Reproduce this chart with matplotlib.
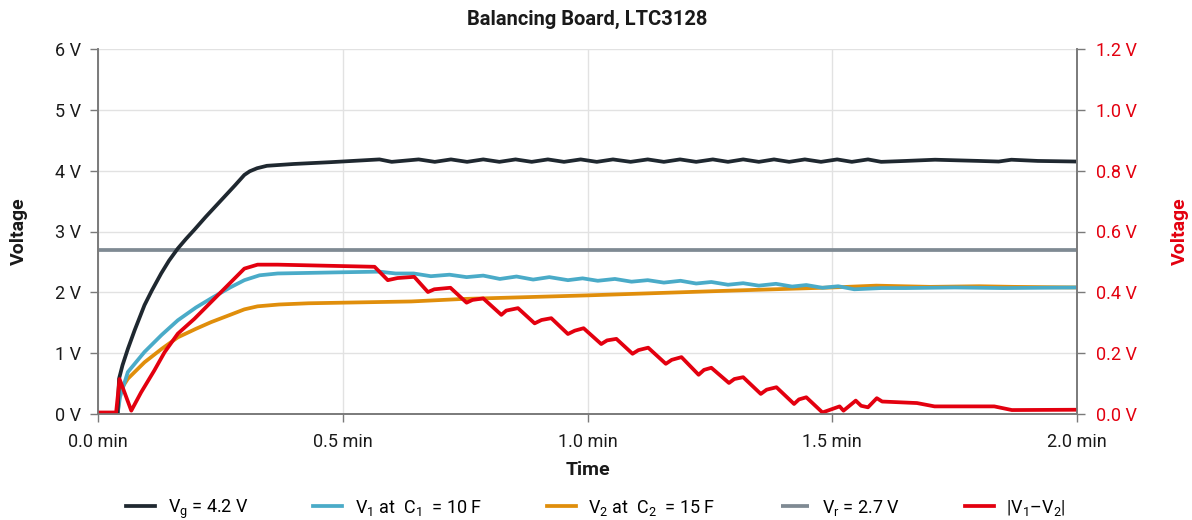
import matplotlib
matplotlib.use("Agg")
import matplotlib.pyplot as plt
from matplotlib.ticker import FuncFormatter

plt.rcParams['font.family'] = ['Roboto', 'DejaVu Sans']
plt.rcParams['mathtext.fontset'] = 'custom'
plt.rcParams['mathtext.rm'] = 'Roboto'

# --- data (time in minutes) ---
t_g = [0.0, 0.04, 0.043, 0.05, 0.061, 0.075, 0.095, 0.11, 0.129, 0.145, 0.163, 0.18, 0.197, 0.22,
       0.25, 0.28, 0.299, 0.31, 0.325, 0.345, 0.40, 0.476,
       0.575, 0.60, 0.655, 0.688, 0.721, 0.754, 0.787, 0.82, 0.853, 0.886, 0.919, 0.952, 0.986, 1.019,
       1.052, 1.088, 1.123, 1.156, 1.189, 1.222, 1.256, 1.287, 1.318, 1.35, 1.381, 1.412, 1.444, 1.477,
       1.51, 1.54, 1.573, 1.60, 1.65, 1.71, 1.80, 1.84, 1.866, 1.92, 2.0]
v_g = [0.0, 0.0, 0.58, 0.8, 1.07, 1.38, 1.79, 2.03, 2.31, 2.52, 2.72, 2.88, 3.03, 3.24,
       3.5, 3.76, 3.93, 3.99, 4.04, 4.08, 4.11, 4.14,
       4.185, 4.145, 4.185, 4.145, 4.185, 4.145, 4.185, 4.145, 4.185, 4.145, 4.185, 4.145, 4.185, 4.145,
       4.185, 4.145, 4.185, 4.145, 4.185, 4.145, 4.185, 4.145, 4.185, 4.145, 4.185, 4.145, 4.185, 4.145,
       4.185, 4.145, 4.185, 4.145, 4.16, 4.18, 4.16, 4.15, 4.18, 4.16, 4.15]

t_1 = [0.0, 0.04, 0.045, 0.061, 0.095, 0.13, 0.163, 0.2, 0.231, 0.27, 0.299, 0.33, 0.367, 0.5,
       0.575, 0.608, 0.645, 0.68, 0.718, 0.753, 0.787, 0.821, 0.855, 0.889, 0.922, 0.96,
       0.99, 1.021, 1.056, 1.09, 1.123, 1.156, 1.19, 1.222, 1.253, 1.287, 1.318, 1.35,
       1.385, 1.418, 1.447, 1.48, 1.512, 1.545, 1.6, 1.65, 1.75, 1.85, 2.0]
v_1 = [0.0, 0.0, 0.28, 0.69, 1.02, 1.3, 1.54, 1.75, 1.9, 2.08, 2.2, 2.28, 2.31, 2.33,
       2.34, 2.31, 2.31, 2.265, 2.29, 2.25, 2.275, 2.22, 2.26, 2.21, 2.25, 2.20,
       2.23, 2.19, 2.22, 2.175, 2.20, 2.16, 2.19, 2.145, 2.17, 2.125, 2.15, 2.11,
       2.14, 2.095, 2.12, 2.075, 2.10, 2.05, 2.07, 2.07, 2.08, 2.07, 2.08]

t_2 = [0.0, 0.04, 0.045, 0.061, 0.095, 0.13, 0.163, 0.2, 0.231, 0.27, 0.299, 0.326, 0.37, 0.43,
       0.64, 0.742, 1.0, 1.3, 1.5, 1.59, 1.7, 1.8, 1.87, 2.0]
v_2 = [0.0, 0.0, 0.38, 0.58, 0.85, 1.07, 1.26, 1.4, 1.51, 1.63, 1.72, 1.77, 1.8, 1.82,
       1.85, 1.89, 1.95, 2.03, 2.08, 2.11, 2.09, 2.10, 2.09, 2.08]

t_r = [0.0, 2.0]
v_r = [2.7, 2.7]

t_d = [0.0, 0.037, 0.044, 0.068, 0.088, 0.115, 0.136, 0.163, 0.197, 0.231, 0.265, 0.299, 0.326,
       0.367, 0.565, 0.592, 0.612, 0.646, 0.674, 0.687, 0.72, 0.753, 0.765, 0.787, 0.824, 0.834,
       0.858, 0.892, 0.906, 0.926, 0.96, 0.974, 0.992, 1.028, 1.04, 1.059, 1.092, 1.104, 1.124,
       1.16, 1.172, 1.192, 1.227, 1.238, 1.253, 1.289, 1.30, 1.318, 1.354, 1.366, 1.386, 1.422,
       1.432, 1.447, 1.48, 1.515, 1.523, 1.548, 1.559, 1.573, 1.591, 1.602, 1.673, 1.709, 1.831,
       1.867, 2.0]
v_d = [0.005, 0.005, 0.115, 0.011, 0.071, 0.143, 0.203, 0.264, 0.313, 0.368, 0.423, 0.478, 0.491,
       0.491, 0.484, 0.44, 0.447, 0.451, 0.401, 0.41, 0.415, 0.366, 0.375, 0.38, 0.326, 0.34,
       0.348, 0.298, 0.309, 0.315, 0.263, 0.274, 0.282, 0.23, 0.242, 0.247, 0.198, 0.21, 0.218,
       0.165, 0.178, 0.187, 0.129, 0.145, 0.152, 0.102, 0.115, 0.121, 0.066, 0.08, 0.088, 0.033,
       0.048, 0.055, 0.005, 0.025, 0.011, 0.044, 0.027, 0.022, 0.052, 0.041, 0.036, 0.025, 0.025,
       0.013, 0.014]

x_ticks = [0.0, 0.5, 1.0, 1.5, 2.0]
left_ticks = [0, 1, 2, 3, 4, 5, 6]
right_ticks = [0.0, 0.2, 0.4, 0.6, 0.8, 1.0, 1.2]

labels = ['V$_\\mathregular{g}$ = 4.2 V',
          'V$_\\mathregular{1}$ at  C$_\\mathregular{1}$  = 10 F',
          'V$_\\mathregular{2}$ at  C$_\\mathregular{2}$  = 15 F',
          'V$_\\mathregular{r}$ = 2.7 V',
          '|V$_\\mathregular{1}$\u2013V$_\\mathregular{2}$|']

C_G = '#1f2830'
C_1 = '#4aabc8'
C_2 = '#e08e0b'
C_R = '#7f8a93'
C_D = '#e3000f'
SPINE = '#7a7a7a'
GRID = '#e2e2e2'
TXT = '#1a1a1a'

fig = plt.figure(figsize=(11.92, 5.2), dpi=100)
ax = fig.add_axes([98 / 1192, 1 - 414 / 520, (1077 - 98) / 1192, (414 - 49) / 520])
ax2 = ax.twinx()

lw = 2.7
h_r, = ax.plot(t_r, v_r, color=C_R, lw=lw, solid_capstyle='butt')
h_2, = ax.plot(t_2, v_2, color=C_2, lw=lw)
h_1, = ax.plot(t_1, v_1, color=C_1, lw=lw)
h_g, = ax.plot(t_g, v_g, color=C_G, lw=lw)
h_d, = ax2.plot(t_d, v_d, color=C_D, lw=lw)

ax.set_xlim(0, 2.0)
ax.set_ylim(0, 6)
ax2.set_ylim(0, 1.2)
ax.set_xticks(x_ticks)
ax.set_yticks(left_ticks)
ax2.set_yticks(right_ticks)
ax.xaxis.set_major_formatter(FuncFormatter(lambda v, p: f'{v:.1f} min'))
ax.yaxis.set_major_formatter(FuncFormatter(lambda v, p: f'{v:.0f} V'))
ax2.yaxis.set_major_formatter(FuncFormatter(lambda v, p: f'{v:.1f} V'))

ax.grid(True, color=GRID, lw=1.0)
ax.set_axisbelow(True)

for a in (ax, ax2):
    a.spines['top'].set_visible(False)
    for s in ('left', 'right', 'bottom'):
        a.spines[s].set_color(SPINE)
        a.spines[s].set_linewidth(1.2)

ax.tick_params(axis='both', colors=SPINE, length=6, width=1.0, labelsize=13, labelcolor=TXT, pad=6)
ax.tick_params(axis='x', pad=8)
ax2.tick_params(axis='y', colors=SPINE, length=6, width=1.0, labelsize=13, labelcolor=C_D, pad=8)

ax.set_xlabel('Time', fontsize=14, fontweight='bold', color=TXT, labelpad=7)
ax.set_ylabel('Voltage', fontsize=14, fontweight='bold', color=TXT, labelpad=20)
ax2.set_ylabel('Voltage', fontsize=14, fontweight='bold', color=C_D, labelpad=24)
ax.set_title('Balancing Board, LTC3128', fontsize=14.5, fontweight='bold', color=TXT, pad=17)

fig.legend([h_g, h_1, h_2, h_r, h_d], labels, loc='center', bbox_to_anchor=(0.5, 1 - 509 / 520),
           ncol=5, frameon=False, fontsize=13, handlelength=1.6, handletextpad=0.7,
           columnspacing=3.6)

fig.savefig('out.png', dpi=100)
